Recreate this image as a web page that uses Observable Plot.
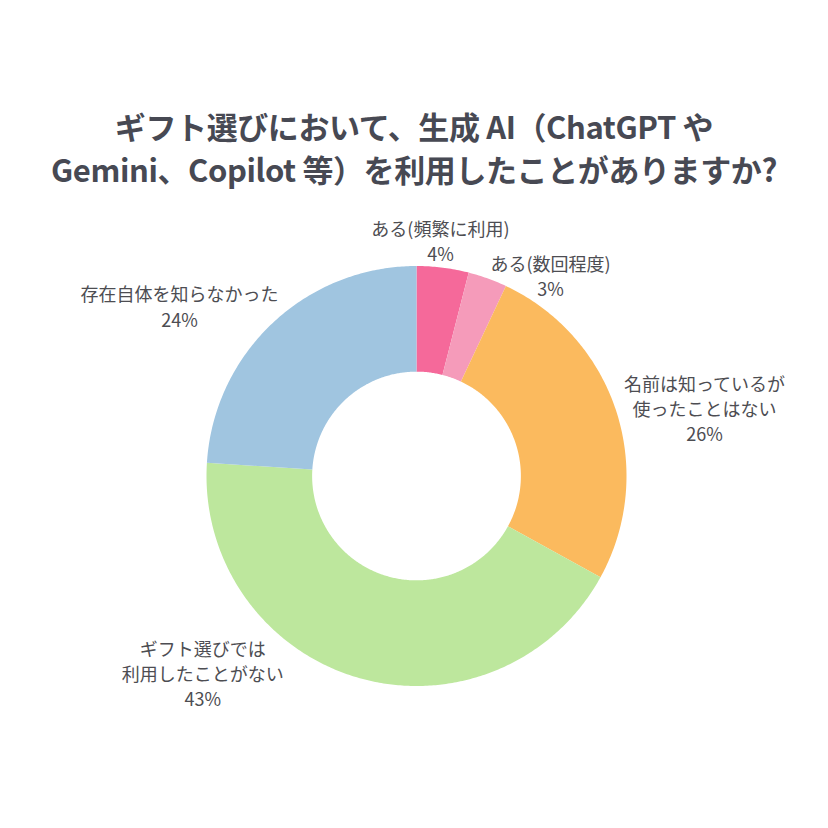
<!DOCTYPE html>
<html>
<head>
<meta charset="utf-8">
<script src="https://cdn.jsdelivr.net/npm/d3@7"></script>
<script src="https://cdn.jsdelivr.net/npm/@observablehq/plot@0.6"></script>
<style>
  html, body { margin: 0; padding: 0; background: #fff; }
  #wrap { width: 828px; height: 828px; position: relative; overflow: hidden; }
  #title {
    position: absolute; left: 0; top: 104px; width: 828px; text-align: center;
    font-family: "Noto Sans CJK JP", "Noto Sans", sans-serif; font-weight: 700;
    font-size: 31px; line-height: 43px; color: #474953; letter-spacing: -0.4px;
  }
  #chart { position: absolute; left: 0; top: 210px; }
</style>
</head>
<body>
<div id="wrap">
  <div id="title">ギフト選びにおいて、生成 AI（ChatGPT や<br>Gemini、Copilot 等）を利用したことがありますか?</div>
  <div id="chart"></div>
</div>
<script>
// ---- data ----
const categories = ["ある(頻繁に利用)", "ある(数回程度)", "名前は知っているが\n使ったことはない", "ギフト選びでは\n利用したことがない", "存在自体を知らなかった"];
const values = [4, 3, 26, 43, 24];
const colors = ["#f5699a", "#f59bba", "#fbba5e", "#bde79d", "#a0c5e0"];

// ---- layout constants (not data) ----
const W = 828, H = 618;
const R = 210;              // outer radius px
const cx = 416, cy = 265.5; // center within svg px
const innerRatio = 0.497;
// label anchor: [angle (deg, clockwise from top), radius in units of R]
const labelAnchors = [[5.8, 1.127], [33.7, 1.15], [76.8, 1.409], [227.4, 1.383], [305.65, 1.389]];

const pie = d3.pie().sort(null).value(d => d)(values);
const pts = [];
pie.forEach((s, i) => {
  const steps = Math.max(8, Math.ceil((s.endAngle - s.startAngle) / 0.01));
  const ring = [];
  for (let k = 0; k <= steps; k++) {
    const a = s.startAngle + (s.endAngle - s.startAngle) * k / steps;
    ring.push([Math.sin(a), Math.cos(a)]);
  }
  for (let k = steps; k >= 0; k--) {
    const a = s.startAngle + (s.endAngle - s.startAngle) * k / steps;
    ring.push([innerRatio * Math.sin(a), innerRatio * Math.cos(a)]);
  }
  ring.push(ring[0]);
  ring.forEach(p => pts.push({key: categories[i], x: p[0], y: p[1]}));
});

const labels = categories.map((c, i) => {
  const [deg, rr] = labelAnchors[i];
  const a = deg * Math.PI / 180;
  return {text: c + "\n" + values[i] + "%", x: rr * Math.sin(a), y: rr * Math.cos(a)};
});

const chart = Plot.plot({
  width: W, height: H, margin: 0,
  x: {domain: [-cx / R, (W - cx) / R], axis: null},
  y: {domain: [-(H - cy) / R, cy / R], axis: null},
  color: {domain: categories, range: colors},
  style: {background: "transparent"},
  marks: [
    Plot.line(pts, {x: "x", y: "y", z: "key", fill: "key", stroke: "none", curve: "linear"}),
    Plot.text(labels, {x: "x", y: "y", text: "text", fontSize: 18, lineHeight: 1.39, fill: "#4d4d52",
      fontFamily: "'Noto Sans CJK JP', sans-serif", textAnchor: "middle"})
  ]
});
document.getElementById("chart").appendChild(chart);
</script>
</body>
</html>
